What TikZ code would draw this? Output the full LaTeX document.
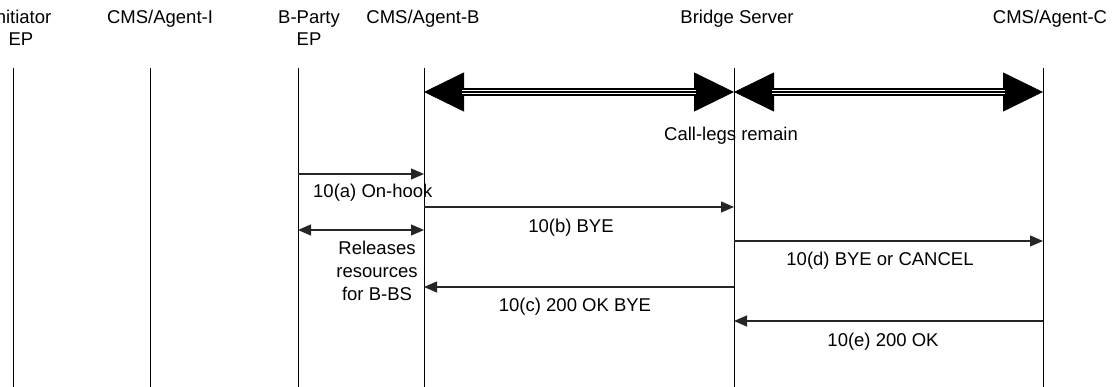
\documentclass[tikz,border=0pt]{standalone}
\usepackage{fontspec}
\setmainfont{Liberation Sans}
\usetikzlibrary{arrows.meta}
\tikzstyle{life} = [draw, line width=1pt]
\tikzstyle{msg} = [draw, black!85, line width=1.3pt, -{Triangle[length=13pt,width=11pt]}]
\tikzstyle{msgboth} = [draw, black!85, line width=1.3pt, {Triangle[length=13pt,width=11pt]}-{Triangle[length=13pt,width=11pt]}]
\tikzstyle{bighead} = [draw, line width=0.8pt, {Triangle[length=40pt,width=39pt]}-{Triangle[length=40pt,width=39pt]}]
\tikzstyle{trunk} = [draw, line width=1.5pt, double=white, double distance=4.6pt, shorten <=38pt, shorten >=38pt]
\tikzstyle{trunkmid} = [draw, line width=1.5pt, shorten <=38pt, shorten >=38pt]
\tikzstyle{hdr} = [inner sep=0pt, anchor=base, align=center, font=\fontsize{18.5pt}{22pt}\selectfont]
\tikzstyle{lbl} = [inner sep=0pt, anchor=base, align=center, font=\fontsize{18.5pt}{23.5pt}\selectfont]

\begin{document}
\begin{tikzpicture}[x=1pt, y=1pt]
      \useasboundingbox (0,0) rectangle (1116,-387);
      % headers (base = last line)
      \node[hdr] (h-iep) at (21, -46) {Initiator\\EP};
      \node[hdr] (h-agi) at (160, -24) {CMS/Agent-I};
      \node[hdr] (h-bep) at (309, -46) {B-Party\\EP};
      \node[hdr] (h-agb) at (423, -24) {CMS/Agent-B};
      \node[hdr] (h-brs) at (737, -24) {Bridge Server};
      \node[hdr] (h-agc) at (1050, -24) {CMS/Agent-C};
      % lifelines
      \coordinate (iep) at (13, -68);   \coordinate (iep-end) at (13, -387);
      \coordinate (agi) at (150, -68);  \coordinate (agi-end) at (150, -387);
      \coordinate (bep) at (298, -68);  \coordinate (bep-end) at (298, -387);
      \coordinate (agb) at (424, -68);  \coordinate (agb-end) at (424, -387);
      \coordinate (brs) at (734, -68);  \coordinate (brs-end) at (734, -387);
      \coordinate (agc) at (1043, -68); \coordinate (agc-end) at (1043, -387);
      \draw[life] (iep) -- (iep-end);
      \draw[life] (agi) -- (agi-end);
      \draw[life] (bep) -- (bep-end);
      \draw[life] (agb) -- (agb-end);
      \draw[life] (brs) -- (brs-end);
      \draw[life] (agc) -- (agc-end);
      % call-legs
      \foreach \a/\b in {agb/brs, brs/agc} {
        \draw[bighead] (\a |- 0,-92) -- (\b |- 0,-92);
        \draw[trunk] (\a |- 0,-92) -- (\b |- 0,-92);
        \draw[trunkmid] (\a |- 0,-92) -- (\b |- 0,-92);
      }
      \node[lbl] (legs) at (731, -141) {Call-legs remain};
      % messages
      \draw[msg] (bep |- 0,-174) -- (agb |- 0,-174);
      \node[lbl, anchor=base west] (m-a) at (313, -198) {10(a) On-hook};
      \draw[msg] (agb |- 0,-207) -- (brs |- 0,-207);
      \node[lbl] (m-b) at (571, -233) {10(b) BYE};
      \draw[msgboth] (bep |- 0,-230) -- (agb |- 0,-230);
      \node[lbl] (rel) at (377, -301) {Releases\\resources\\for B-BS};
      \draw[msg] (brs |- 0,-241) -- (agc |- 0,-241);
      \node[lbl] (m-d) at (880, -266) {10(d) BYE or CANCEL};
      \draw[msg] (brs |- 0,-287) -- (agb |- 0,-287);
      \node[lbl] (m-c) at (575, -311) {10(c) 200 OK BYE};
      \draw[msg] (agc |- 0,-321) -- (brs |- 0,-321);
      \node[lbl] (m-e) at (883, -346) {10(e) 200 OK};
    \end{tikzpicture}
\end{document}
